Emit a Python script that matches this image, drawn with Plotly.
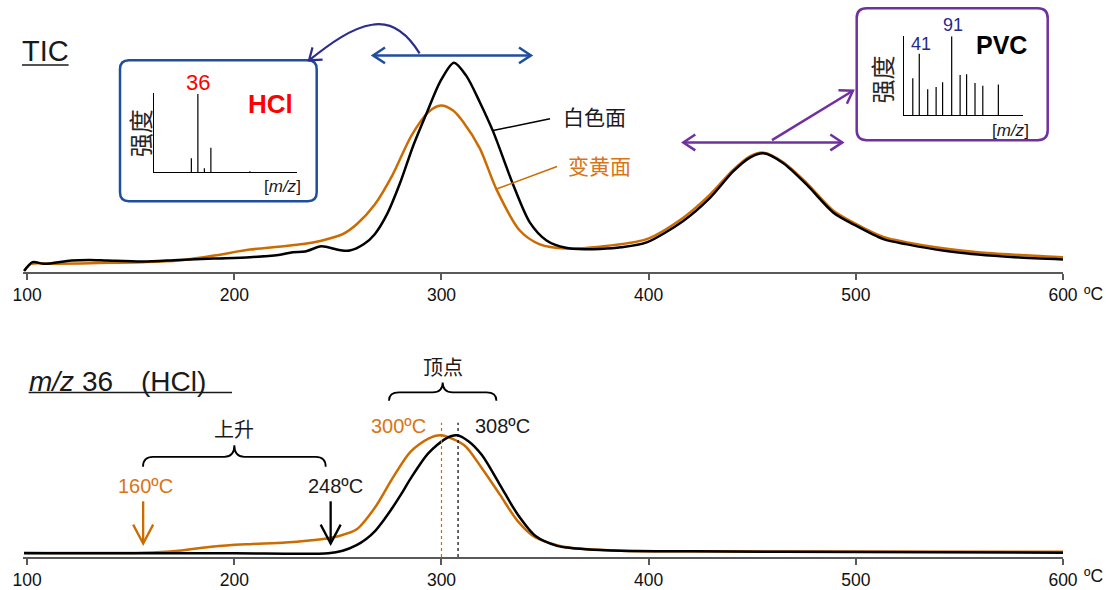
import plotly.graph_objects as go

# ------------------------------------------------------------------ data
# TIC, white (白色面) surface
tic_white_T = [98.5, 102.6, 108.3, 121.3, 130, 138.6, 156, 173, 190, 207.5, 221.3, 228.2,
               234.2, 242, 250.6, 255.7, 262.6, 267.8, 273.6, 280, 286.4, 292.9, 299.5,
               306, 312, 318.5, 325, 334.6, 342.7, 350.7, 360, 369.5, 376.4, 386.7, 399,
               416.7, 429.6, 440.8, 448.9, 455.5, 465, 476.3, 489.2, 498.8, 513.3, 524.8,
               542, 559, 576.6, 600]
tic_white_I = [1, 10, 8.3, 11.7, 12.3, 11.7, 10.7, 12.3, 13.7, 15, 17.3, 20,
               20.7, 26, 22.3, 21.7, 28.3, 38.3, 58, 90, 128, 161, 193,
               211.7, 198.3, 171.7, 141.7, 88.3, 50, 32, 24.5, 23, 23.3, 25, 30,
               51.7, 75, 101.7, 115.7, 120, 110, 88.3, 60, 48.3, 33.3, 28,
               21.7, 17.7, 15, 12.7]

# TIC, yellowed (变黄面) surface
tic_yellow_T = [98.8, 102, 112.6, 138.6, 156, 173, 190.2, 207.5, 221.3, 233.3, 242, 252.3,
                259.1, 267.8, 276.4, 285.5, 293.7, 299.7, 305.6, 310.5, 318.5, 326.6,
                337.8, 347.5, 360, 376.4, 399, 416.7, 429.6, 440.8, 448.9, 455.5, 465,
                476.3, 489.2, 498.8, 513.3, 524.8, 542, 559, 576.6, 600]
tic_yellow_I = [1.7, 8.3, 8.3, 9.3, 10, 11.7, 16.7, 22.7, 25.7, 28.3, 31.7, 38.3,
                48.3, 68.3, 98.3, 138, 161.7, 168.3, 163.3, 151.7, 125, 83.3,
                42, 28, 23.8, 25.7, 33.3, 55, 78.3, 103.3, 117, 120.7, 111,
                90, 62, 50, 35.5, 30, 24, 20, 17.5, 15]

# m/z 36 extracted ion, white surface
hcl_white_T = [98.5, 150, 200, 245.4, 252.3, 259, 263.5, 267.8, 272, 276.4, 280.7, 285,
               293.7, 302.3, 307.4, 313, 319.5, 328.2, 336.8, 345.4, 355.8, 360.7, 369.4,
               386.6, 421, 500, 600]
hcl_white_I = [3.7, 3.7, 3.7, 3.7, 6.3, 12, 18, 26, 37, 50, 64, 79,
               105, 120, 123, 117, 103, 73, 43, 21.3, 11.3, 9.5, 7.8,
               6.3, 5.7, 5, 4.3]

# m/z 36 extracted ion, yellowed surface
hcl_yellow_T = [98.5, 155.7, 173, 190.2, 207.5, 224.7, 242, 250.6, 259.1, 267.8, 276.4,
                285, 293.7, 299.7, 311, 319.5, 328.2, 336.8, 345.4, 355.8, 360.7, 369.4,
                386.6, 421, 500, 600]
hcl_yellow_I = [4.3, 4.3, 6.3, 10.7, 13, 14.7, 18, 21.3, 28, 49.7, 79.7,
                106.3, 119.7, 123, 113, 89.7, 63, 36.3, 19.7, 12, 9.8, 8,
                6.3, 5.7, 5.5, 5.3]

x_tick_vals = [100, 200, 300, 400, 500, 600]
x_tick_text = ["100", "200", "300", "400", "500", "600"]

# inset mass spectra
hcl_ms_mz = [35, 36, 37, 38, 44]
hcl_ms_int = [18, 100, 5.4, 31.5, 1.5]
pvc_ms_mz = [31, 41, 54, 67, 77, 91, 104, 114, 127, 139, 163]
pvc_ms_int = [47, 78, 33, 36, 42, 100, 51, 52, 41, 37.5, 39]

peak_T = {"yellow": 300, "white": 308}
onset_arrow_T = {"yellow": 156, "white": 246.5}
onset_label = {"yellow": "160ºC", "white": "248ºC"}

# ------------------------------------------------------------------ layout geometry
W, H = 1112, 590
ML, MR, MT, MB = 23, 49, 0, 27
PW, PH = W - ML - MR, H - MT - MB
XR = [98, 600]

def xp(px):
    return (px - ML) / PW

def yp(py):
    return (H - MB - py) / PH

def t2px(T):
    return ML + (T - XR[0]) / (XR[1] - XR[0]) * PW

def P(px, py):
    return f"{xp(px):.5f},{yp(py):.5f}"

BLACK = "#000000"
ORANGE = "#CC6B00"
ORANGE_T = "#DA7414"
BLUE = "#1F4E9E"
NAVY = "#2B2E8C"
PURPLE = "#7030A0"
AXC = "#595959"
FONT = "Arial, Liberation Sans, Noto Sans CJK SC, sans-serif"

fig = go.Figure()

line_kw = dict(shape="spline", smoothing=0.8)
fig.add_trace(go.Scatter(x=tic_yellow_T, y=tic_yellow_I, mode="lines", xaxis="x", yaxis="y",
                         line=dict(color=ORANGE, width=2.5, **line_kw)))
fig.add_trace(go.Scatter(x=tic_white_T, y=tic_white_I, mode="lines", xaxis="x", yaxis="y",
                         line=dict(color=BLACK, width=2.5, **line_kw)))
fig.add_trace(go.Scatter(x=hcl_yellow_T, y=hcl_yellow_I, mode="lines", xaxis="x2", yaxis="y2",
                         line=dict(color=ORANGE, width=2.5, **line_kw)))
fig.add_trace(go.Scatter(x=hcl_white_T, y=hcl_white_I, mode="lines", xaxis="x2", yaxis="y2",
                         line=dict(color=BLACK, width=2.5, **line_kw)))

def sticks(mz, it):
    xs, ys = [], []
    for m, v in zip(mz, it):
        xs += [m, m, None]
        ys += [0, v, None]
    return xs, ys

sx, sy = sticks(hcl_ms_mz, hcl_ms_int)
fig.add_trace(go.Scatter(x=sx, y=sy, mode="lines", xaxis="x3", yaxis="y3",
                         line=dict(color=BLACK, width=1.2)))
sx, sy = sticks(pvc_ms_mz, pvc_ms_int)
fig.add_trace(go.Scatter(x=sx, y=sy, mode="lines", xaxis="x4", yaxis="y4",
                         line=dict(color=BLACK, width=1.2)))

xax = dict(range=XR, showline=True, linecolor=AXC, linewidth=2, ticks="outside", ticklen=6,
           tickwidth=1.5, tickcolor=AXC, tickvals=x_tick_vals, ticktext=x_tick_text,
           tickfont=dict(size=17.5, color="#111111", family=FONT), showgrid=False,
           zeroline=False, fixedrange=True)
inset_ax = dict(showline=True, linecolor=BLACK, linewidth=1, showticklabels=False, ticks="",
                showgrid=False, zeroline=False, fixedrange=True)

fig.update_layout(
    width=W, height=H, margin=dict(l=ML, r=MR, t=MT, b=MB, pad=0),
    paper_bgcolor="white", plot_bgcolor="rgba(0,0,0,0)", showlegend=False, hovermode=False,
    font=dict(family=FONT, color="#1a1a1a"),
    xaxis=dict(domain=[0, 1], anchor="y", **xax),
    yaxis=dict(domain=[yp(275), 1], range=[0, 275], visible=False, fixedrange=True),
    xaxis2=dict(domain=[0, 1], anchor="y2", **xax),
    yaxis2=dict(domain=[0, yp(350)], range=[0, 213], visible=False, fixedrange=True),
    xaxis3=dict(domain=[xp(154.3), xp(296.7)], anchor="y3", range=[29.3, 51.2], **inset_ax),
    yaxis3=dict(domain=[yp(174.3), yp(94.3)], anchor="x3", range=[0, 101], **inset_ax),
    xaxis4=dict(domain=[xp(904.3), xp(1023.3)], anchor="y4", range=[17.9, 201.5], **inset_ax),
    yaxis4=dict(domain=[yp(116.7), yp(36.7)], anchor="x4", range=[0, 100], **inset_ax),
)

shapes = []

def pshape(path, color, width, fill=None, dash=None, layer="above"):
    d = dict(type="path", xref="paper", yref="paper", path=path,
             line=dict(color=color, width=width), layer=layer)
    if dash:
        d["line"]["dash"] = dash
    if fill:
        d["fillcolor"] = fill
    shapes.append(d)

def seg(x0, y0, x1, y1, color, width):
    pshape(f"M {P(x0, y0)} L {P(x1, y1)}", color, width)

def chevron(tx, ty, dx, dy, L, Wd, color, width):
    n = (dx * dx + dy * dy) ** 0.5
    dx, dy = dx / n, dy / n
    bx, by = tx - L * dx, ty - L * dy
    nx, ny = -dy, dx
    pshape(f"M {P(bx + Wd * nx, by + Wd * ny)} L {P(tx, ty)} L {P(bx - Wd * nx, by - Wd * ny)}",
           color, width)

def rrect(x0, y0, x1, y1, r, color, width):
    path = (f"M {P(x0 + r, y0)} L {P(x1 - r, y0)} Q {P(x1, y0)} {P(x1, y0 + r)} "
            f"L {P(x1, y1 - r)} Q {P(x1, y1)} {P(x1 - r, y1)} L {P(x0 + r, y1)} "
            f"Q {P(x0, y1)} {P(x0, y1 - r)} L {P(x0, y0 + r)} Q {P(x0, y0)} {P(x0 + r, y0)} Z")
    pshape(path, color, width, fill="white", layer="below")

def brace(x0, x1, ytip, yh, yend, color, width):
    xm = (x0 + x1) / 2
    path = (f"M {P(x0, yend)} Q {P(x0, yh)} {P(x0 + 10, yh)} L {P(xm - 10, yh)} "
            f"Q {P(xm, yh)} {P(xm, ytip)} Q {P(xm, yh)} {P(xm + 10, yh)} "
            f"L {P(x1 - 10, yh)} Q {P(x1, yh)} {P(x1, yend)}")
    pshape(path, color, width)

# inset boxes
rrect(120, 61, 316.7, 203.3, 9, BLUE, 2.5)
rrect(856.7, 8.3, 1047.7, 141.7, 10, PURPLE, 2.5)

# title underlines
seg(22, 65.7, 68.6, 65.7, "#1a1a1a", 1.5)
seg(28.6, 396.7, 232, 396.7, "#1a1a1a", 1.5)

# blue double arrow over first TIC peak
seg(373, 56, 531, 56, BLUE, 2.5)
chevron(373, 56, -1, 0, 12, 8, BLUE, 2.5)
chevron(531, 56, 1, 0, 12, 8, BLUE, 2.5)
# curved arrow to HCl box
pshape(f"M {P(419.6, 54)} C {P(405, 30)} {P(388, 22)} {P(372, 25)} "
       f"C {P(352, 28)} {P(330, 44)} {P(309, 61)}", NAVY, 2.2)
chevron(309, 61, -21, 17, 11, 8, NAVY, 2.2)

# purple arrows over second TIC peak
seg(683.3, 144, 842.3, 144, PURPLE, 2.5)
chevron(683.3, 144, -1, 0, 12, 8, PURPLE, 2.5)
chevron(842.3, 144, 1, 0, 12, 8, PURPLE, 2.5)
seg(772, 141.7, 852.9, 91.7, PURPLE, 2.5)
chevron(852.9, 91.7, 852.9 - 772, 91.7 - 141.7, 12, 8, PURPLE, 2.5)

# leader lines for series labels
seg(493, 132, 550, 120, BLACK, 1.5)
seg(496.5, 191, 557, 168.3, ORANGE, 1.5)

# onset arrows (bottom)
for key, col in (("yellow", ORANGE), ("white", BLACK)):
    ax = t2px(onset_arrow_T[key])
    seg(ax, 506.7, ax, 549.3, col, 2.3)
    chevron(ax, 549.3, 0, 1, 19, 10, col, 2.3)

# braces
brace(143, 325.7, 450, 461.7, 471.7, BLACK, 1.8)
brace(389, 496.4, 386.7, 396.7, 405, BLACK, 1.8)

# dotted peak lines
for key, col in (("yellow", ORANGE), ("white", BLACK)):
    shapes.append(dict(type="line", xref="x2", yref="y2", x0=peak_T[key], x1=peak_T[key],
                       y0=0, y1=135.7, line=dict(color=col, width=1.2, dash="dot")))

fig.update_layout(shapes=shapes)

ann = []

def txt(px, py, s, size, color="#1a1a1a", xanchor="center", angle=0):
    ann.append(dict(xref="paper", yref="paper", x=xp(px), y=yp(py), text=s, showarrow=False,
                    xanchor=xanchor, yanchor="middle", textangle=angle,
                    font=dict(size=size, color=color, family=FONT)))

txt(45.3, 52, "TIC", 29)
txt(27, 385.5, "<i>m/z</i> 36\u3000(HCl)", 28, xanchor="left")
txt(594, 118.3, "白色面", 21)
txt(599.6, 168.3, "变黄面", 21, ORANGE_T)
txt(398, 431, f"{peak_T['yellow']}ºC", 20, ORANGE_T)
txt(502, 431, f"{peak_T['white']}ºC", 20)
txt(442.7, 372, "顶点", 20)
txt(234.3, 435, "上升", 20)
txt(145.7, 491.7, onset_label["yellow"], 20, ORANGE_T)
txt(335, 491.7, onset_label["white"], 20)
txt(1093, 297, "ºC", 17.5, "#111111")
txt(1093, 582.5, "ºC", 17.5, "#111111")

# inset texts
txt(270, 105, "<b>HCl</b>", 26, "#FF0000")
txt(141.7, 135, "强度", 24, "#262626", angle=-90)
txt(282.5, 188.3, "[<i>m/z</i>]", 17)
txt(1001.7, 45, "<b>PVC</b>", 25, BLACK)
txt(883.3, 80, "强度", 24, "#262626", angle=-90)
txt(1010, 131.7, "[<i>m/z</i>]", 17)

ann.append(dict(xref="x3", yref="y3", x=36, y=100, text="36", showarrow=False,
                yanchor="middle", yshift=12, font=dict(size=22, color="#FF0000", family=FONT)))
ann.append(dict(xref="x4", yref="y4", x=41, y=pvc_ms_int[1], text="41", showarrow=False,
                yanchor="middle", xshift=2, yshift=10, font=dict(size=18, color="#1F2A8C", family=FONT)))
ann.append(dict(xref="x4", yref="y4", x=91, y=100, text="91", showarrow=False,
                yanchor="middle", xshift=1, yshift=11, font=dict(size=18, color="#1F2A8C", family=FONT)))

fig.update_layout(annotations=ann)

fig.write_html("out.html", config={"displayModeBar": False},
               post_script="document.body.style.margin='0';document.body.style.overflow='hidden';")
